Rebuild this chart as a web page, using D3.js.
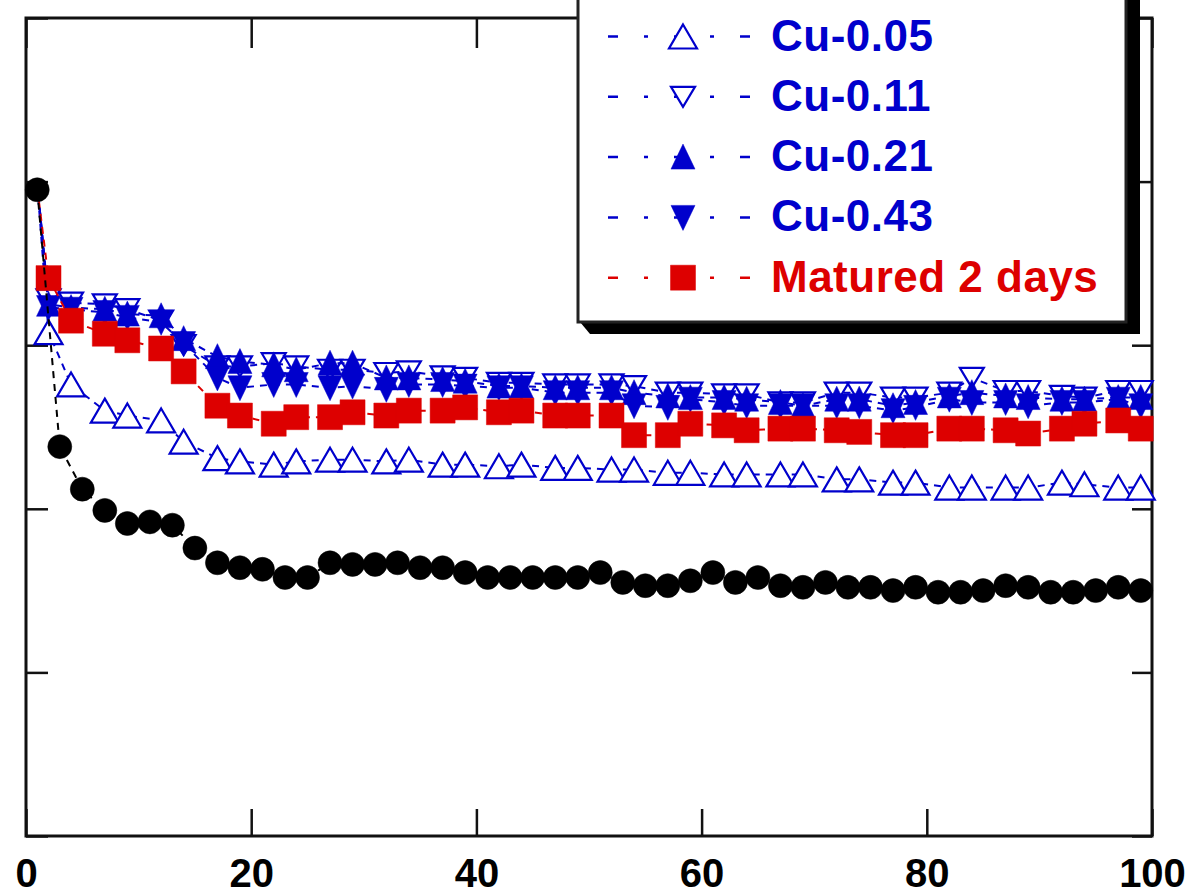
<!DOCTYPE html>
<html>
<head>
<meta charset="utf-8">
<script src="https://cdn.jsdelivr.net/npm/d3@7"></script>
<style>
  html, body { margin: 0; padding: 0; background: #fff; }
  svg { display: block; font-family: "Liberation Sans", Arial, sans-serif; }
</style>
</head>
<body>
<svg id="chart" width="1185" height="896"></svg>
<script>
// cycle numbers
const cyclesBase = [1,3,5,7,9,11,13,15,17,19,21,23,25,27,29,31,33,35,37,39,41,43,45,47,49,
  51,53,55,57,59,61,63,65,67,69,71,73,75,77,79,81,83,85,87,89,91,93,95,97,99];
const cyclesCu = [1,2,4,7,9,12,14,17,19,22,24,27,29,32,34,37,39,42,44,47,49,52,54,57,59,
  62,64,67,69,72,74,77,79,82,84,87,89,92,94,97,99];

// series values (y axis units, labels not visible in the source)
const base = [3.95,2.38,2.12,1.99,1.91,1.92,1.90,1.76,1.67,1.64,1.63,1.58,1.58,1.67,1.66,1.66,1.67,1.64,1.64,1.61,
  1.58,1.58,1.58,1.58,1.58,1.61,1.55,1.53,1.53,1.56,1.61,1.55,1.58,1.53,1.52,1.55,1.52,1.52,1.50,1.52,
  1.49,1.49,1.50,1.53,1.52,1.49,1.49,1.50,1.52,1.50];
const cu005 = [3.98,3.08,2.76,2.60,2.57,2.54,2.41,2.31,2.29,2.27,2.29,2.30,2.30,2.29,2.30,2.27,2.27,2.26,2.27,2.25,
  2.25,2.24,2.24,2.22,2.22,2.21,2.21,2.21,2.21,2.18,2.18,2.16,2.16,2.13,2.13,2.13,2.13,2.16,2.15,2.13,2.13];
const cu011 = [3.99,3.28,3.26,3.25,3.22,3.15,3.00,2.87,2.87,2.89,2.87,2.85,2.85,2.83,2.84,2.81,2.80,2.77,2.77,2.76,
  2.76,2.76,2.75,2.71,2.71,2.70,2.70,2.65,2.65,2.71,2.71,2.68,2.68,2.71,2.80,2.72,2.72,2.69,2.68,2.72,2.72];
const cu021 = [4.00,3.25,3.23,3.22,3.19,3.18,3.04,2.93,2.90,2.88,2.85,2.89,2.89,2.80,2.80,2.79,2.78,2.75,2.75,2.74,
  2.74,2.74,2.71,2.69,2.68,2.68,2.67,2.65,2.63,2.67,2.67,2.63,2.65,2.69,2.71,2.69,2.68,2.67,2.67,2.68,2.68];
const cu043 = [4.00,3.23,3.22,3.20,3.17,3.14,3.01,2.80,2.74,2.76,2.76,2.74,2.75,2.73,2.76,2.76,2.75,2.74,2.74,2.71,
  2.71,2.71,2.63,2.62,2.67,2.65,2.63,2.63,2.63,2.63,2.63,2.60,2.62,2.67,2.65,2.65,2.63,2.65,2.65,2.67,2.63];
const matured = [3.96,3.41,3.15,3.07,3.03,2.98,2.84,2.63,2.57,2.52,2.56,2.56,2.59,2.57,2.60,2.60,2.62,2.59,2.60,2.57,
  2.57,2.57,2.45,2.45,2.52,2.51,2.48,2.49,2.49,2.48,2.47,2.45,2.45,2.49,2.49,2.48,2.46,2.49,2.52,2.54,2.49];

const xTicks = [0, 20, 40, 60, 80, 100];
const yTicks = [0, 1, 2, 3, 4, 5];

const BLUE = "#0000cc", RED = "#dd0000";

// first Cu point sits under the black marker at cycle 1, only its line shows
const series = [
  {name: "Cu-0.05", xs: cyclesCu, ys: cu005, color: BLUE, shape: "triUpOpen", markFrom: 1},
  {name: "Cu-0.11", xs: cyclesCu, ys: cu011, color: BLUE, shape: "triDownOpen", markFrom: 1},
  {name: "Cu-0.21", xs: cyclesCu, ys: cu021, color: BLUE, shape: "triUp", markFrom: 1},
  {name: "Cu-0.43", xs: cyclesCu, ys: cu043, color: BLUE, shape: "triDown", markFrom: 1},
  {name: "Matured 2 days", xs: cyclesCu, ys: matured, color: RED, shape: "square", markFrom: 1},
  {name: "base", xs: cyclesBase, ys: base, color: "#000", shape: "circle", markFrom: 0, noLegend: true}
];

const svg = d3.select("#chart");
const pLeft = 26, pRight = 1152, pTop = 18, pBottom = 836;

const x = d3.scaleLinear().domain([0, 100]).range([pLeft, pRight]);
const y = d3.scaleLinear().domain([0, 5]).range([pBottom, pTop]);

function shapePath(shape) {
  switch (shape) {
    case "triUpOpen": return "M0,-12L14,12L-14,12Z";
    case "triDownOpen": return "M-12,-10L12,-10L0,10Z";
    case "triUp": return "M0,-13L12,12L-12,12Z";
    case "triDown": return "M-12,-12L12,-12L0,13Z";
    case "square": return "M-12.5,-12.5H12.5V12.5H-12.5Z";
    case "circle": return d3.symbol(d3.symbolCircle, Math.PI * 12 * 12)();
  }
}
function isOpen(shape) { return shape.endsWith("Open"); }

// frame
svg.append("rect")
  .attr("x", pLeft).attr("y", pTop)
  .attr("width", pRight - pLeft).attr("height", pBottom - pTop)
  .attr("fill", "none").attr("stroke", "#111").attr("stroke-width", 3);

// axes, inner ticks
const gBottom = svg.append("g").attr("transform", `translate(0,${pBottom})`)
  .call(d3.axisBottom(x).tickValues(xTicks).tickSize(-27).tickPadding(23));
const gTop = svg.append("g").attr("transform", `translate(0,${pTop})`)
  .call(d3.axisTop(x).tickValues(xTicks).tickSize(-30).tickFormat(""));
const gLeft = svg.append("g").attr("transform", `translate(${pLeft},0)`)
  .call(d3.axisLeft(y).tickValues(yTicks).tickSize(-22).tickFormat(""));
const gRight = svg.append("g").attr("transform", `translate(${pRight},0)`)
  .call(d3.axisRight(y).tickValues(yTicks).tickSize(-20).tickFormat(""));
[gBottom, gTop, gLeft, gRight].forEach(g => {
  g.select(".domain").remove();
  g.selectAll(".tick line").attr("stroke", "#111").attr("stroke-width", 2.5);
});
gBottom.selectAll(".tick text")
  .attr("font-family", "'Liberation Sans', Arial, sans-serif")
  .attr("font-size", 40).attr("font-weight", "bold").attr("fill", "#000");

// data
const line = d3.line().x(d => x(d[0])).y(d => y(d[1]));
const plot = svg.append("g");
series.forEach(s => {
  const pts = s.xs.map((c, i) => [c, s.ys[i]]);
  plot.append("path")
    .datum(pts)
    .attr("d", line)
    .attr("fill", "none")
    .attr("stroke", s.color)
    .attr("stroke-width", 2)
    .attr("stroke-dasharray", "7,6");
  plot.append("g")
    .selectAll("path")
    .data(pts.slice(s.markFrom))
    .join("path")
      .attr("transform", d => `translate(${x(d[0])},${y(d[1])})`)
      .attr("d", shapePath(s.shape))
      .attr("fill", isOpen(s.shape) ? "#fff" : s.color)
      .attr("stroke", s.color)
      .attr("stroke-width", isOpen(s.shape) ? 2.2 : 0.5);
});

// legend box with drop shadow
const lgL = 578, lgR = 1126, lgT = -20, lgB = 322;
svg.append("polygon")
  .attr("points", [[lgL + 2, lgB], [lgL + 12, lgB + 12], [lgR + 14, lgB + 12], [lgR + 14, lgT], [lgR, lgT]].join(" "))
  .attr("fill", "#000");
svg.append("rect")
  .attr("x", lgL).attr("y", lgT)
  .attr("width", lgR - lgL).attr("height", lgB - lgT)
  .attr("fill", "#fff").attr("stroke", "#222").attr("stroke-width", 3);

const legend = svg.append("g");
series.filter(s => !s.noLegend).forEach((s, i) => {
  const cy = 36.5 + i * 60.3;
  const row = legend.append("g").attr("transform", `translate(0,${cy})`);
  row.append("line")
    .attr("x1", 608).attr("x2", 754).attr("y1", 0).attr("y2", 0)
    .attr("stroke", s.color).attr("stroke-width", 2.5)
    .attr("stroke-dasharray", "10,26,4,26");
  row.append("path")
    .attr("transform", "translate(683,0)")
    .attr("d", shapePath(s.shape))
    .attr("fill", isOpen(s.shape) ? "#fff" : s.color)
    .attr("stroke", s.color)
    .attr("stroke-width", isOpen(s.shape) ? 2.2 : 0.5);
  row.append("text")
    .attr("x", 771).attr("y", 14)
    .attr("font-size", 44).attr("font-weight", "bold")
    .attr("letter-spacing", 0.5)
    .attr("fill", s.color)
    .text(s.name);
});
</script>
</body>
</html>
